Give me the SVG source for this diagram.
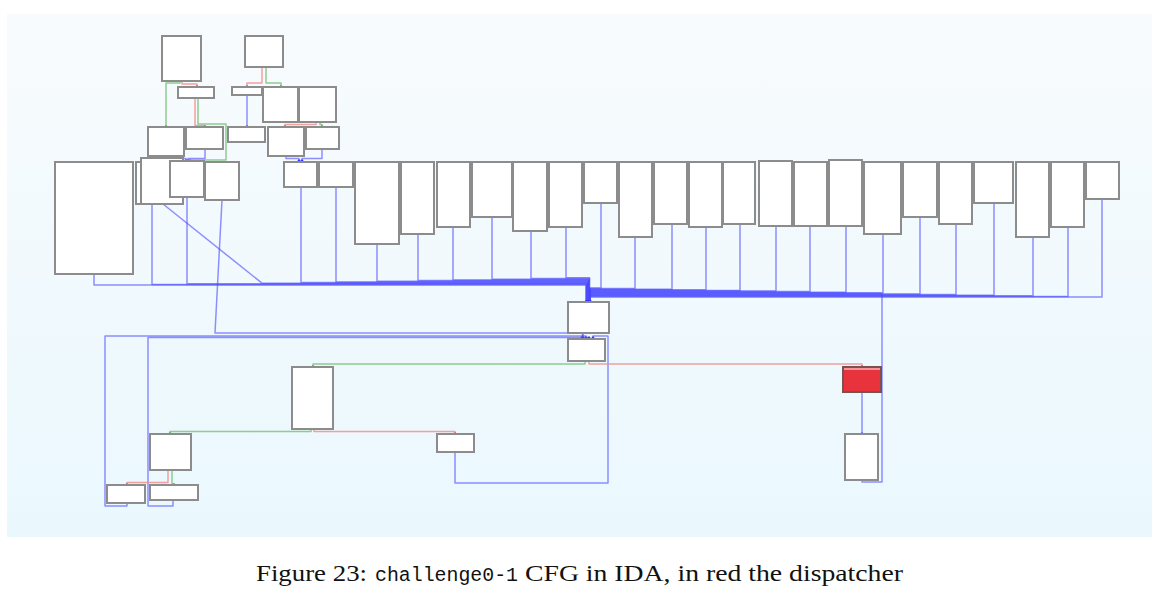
<svg xmlns="http://www.w3.org/2000/svg" width="1157" height="595" viewBox="0 0 1157 595">
<defs>
<linearGradient id="bg" x1="0" y1="0" x2="0" y2="1">
<stop offset="0" stop-color="#f8fbfd"/>
<stop offset="1" stop-color="#eaf8fd"/>
</linearGradient>
<marker id="mb" markerWidth="4" markerHeight="4" refX="2" refY="2" markerUnits="userSpaceOnUse"><circle cx="2" cy="2" r="1.4" fill="#3030ff"/></marker>
<marker id="mg" markerWidth="4" markerHeight="4" refX="2" refY="2" markerUnits="userSpaceOnUse"><circle cx="2" cy="2" r="1.4" fill="#1f8f1f"/></marker>
<marker id="mr" markerWidth="4" markerHeight="4" refX="2" refY="2" markerUnits="userSpaceOnUse"><circle cx="2" cy="2" r="1.4" fill="#e02020"/></marker>
<style>
.n rect{fill:#fff;stroke:#8c8c8c;stroke-width:2}
.e path{fill:none;stroke-width:1.5;stroke-linejoin:round}
.e .b{stroke:#4848ff;stroke-opacity:.6;marker-end:url(#mb)}
.e .g{stroke:#7cc47c;stroke-opacity:.85;marker-end:url(#mg)}
.e .r{stroke:#f09090;stroke-opacity:.85;marker-end:url(#mr)}
.cap{font-family:"Liberation Serif","DejaVu Serif",serif;font-size:23px;fill:#111}
.mono{font-family:"Liberation Mono","DejaVu Sans Mono",monospace;font-size:20px;fill:#111}
</style>
</defs>
<rect x="0" y="0" width="1157" height="595" fill="#fff"/>
<rect x="7" y="14" width="1145" height="523" fill="url(#bg)"/>

<g id="edges" class="e">
<path class="g" d="M180,81 V83 H166 V127"/>
<path class="r" d="M182,81 V84 H197 V87"/>
<path class="r" d="M195,98 V125.5 H205 V127"/>
<path class="g" d="M198,98 V124 H226 V160 H190 V161"/>
<path class="b" d="M167,156 V158.5 H186 V161"/>
<path class="b" d="M205,149 V158.5 H188 V161"/>
<path class="r" d="M262,67 V83 H247 V87"/>
<path class="g" d="M266,67 V83 H281 V87"/>
<path class="b" d="M247,95 V127"/>
<path class="r" d="M316,122 V124.5 H285 V127"/>
<path class="g" d="M320,122 V124.5 H322 V127"/>
<path class="b" d="M286,156 V158.5 H299 V161"/>
<path class="b" d="M322,149 V158.5 H302 V161"/>
<path class="b" d="M94,274 V285 H586 V302"/>
<path class="b" d="M152,204 V284.4 H586.3 V302"/>
<path class="b" d="M187,197 V283.8 H586.6 V302"/>
<path class="b" d="M163,204 L262,283.2 H587 V302"/>
<path class="b" d="M301,187 V282.6 H587.3 V302"/>
<path class="b" d="M336,187 V282 H587.6 V302"/>
<path class="b" d="M377,244 V281.3 H588 V302"/>
<path class="b" d="M418,234 V280.6 H588.3 V302"/>
<path class="b" d="M453,227 V279.9 H588.6 V302"/>
<path class="b" d="M492,217 V279.2 H589 V302"/>
<path class="b" d="M531,231 V278.5 H589.3 V302"/>
<path class="b" d="M566,227 V277.8 H589.6 V302"/>
<path class="b" d="M601,203 V288 H590 V302"/>
<path class="b" d="M635,237 V288.6 H590 V302"/>
<path class="b" d="M672,224 V289.2 H590 V302"/>
<path class="b" d="M706,227 V289.8 H590 V302"/>
<path class="b" d="M740,224 V290.4 H590 V302"/>
<path class="b" d="M776,226 V291 H590 V302"/>
<path class="b" d="M810,226 V291.6 H590 V302"/>
<path class="b" d="M846,226 V292.2 H590 V302"/>
<path class="b" d="M883,234 V292.8 H590 V302"/>
<path class="b" d="M862,480 V482 H882 V293.4 H590 V302"/>
<path class="b" d="M920,217 V294 H590 V302"/>
<path class="b" d="M956,224 V294.6 H590 V302"/>
<path class="b" d="M994,203 V295.2 H590 V302"/>
<path class="b" d="M1033,237 V295.8 H590 V302"/>
<path class="b" d="M1068,227 V296.4 H590 V302"/>
<path class="b" d="M1102,199 V297 H590 V302"/>
<path class="b" d="M588,302 L582,338"/>
<path class="b" d="M222,200 L215,333 H583 V338"/>
<path class="b" d="M127,503 V506 H105 V336 H586 V338"/>
<path class="b" d="M173,500 V506 H148 V337.5 H589 V338"/>
<path class="b" d="M455,452 V483 H608 V336 H593 V338"/>
<path class="g" d="M585,361 V364 H313 V367"/>
<path class="r" d="M589,361 V364 H862 V367"/>
<path class="g" d="M311,429 V431.5 H170 V434"/>
<path class="r" d="M314,429 V431.5 H455 V434"/>
<path class="r" d="M168,470 V482.5 H127 V485"/>
<path class="g" d="M172,470 V484 H174 V485"/>
<path class="b" d="M862,392 V434"/>
</g>

<g id="A" class="n"><rect x="162" y="36" width="39" height="45"/></g>
<g id="B" class="n"><rect x="245" y="36" width="38" height="31"/></g>
<g id="C" class="n"><rect x="178" y="87" width="36" height="11"/></g>
<g id="D" class="n"><rect x="232" y="87" width="30" height="8"/></g>
<g id="E" class="n"><rect x="263" y="87" width="35" height="35"/></g>
<g id="F" class="n"><rect x="299" y="87" width="37" height="35"/></g>
<g id="G" class="n"><rect x="148" y="127" width="36" height="29"/></g>
<g id="H" class="n"><rect x="186" y="127" width="37" height="22"/></g>
<g id="I" class="n"><rect x="228" y="127" width="37" height="15"/></g>
<g id="J" class="n"><rect x="268" y="127" width="36" height="29"/></g>
<g id="K" class="n"><rect x="306" y="127" width="33" height="22"/></g>
<g id="L" class="n"><rect x="55" y="162" width="78" height="112"/></g>
<g id="M1" class="n"><rect x="136" y="162" width="47" height="42"/></g>
<g id="M2" class="n"><rect x="141" y="158" width="42" height="46"/></g>
<g id="N" class="n"><rect x="170" y="161" width="34" height="36"/></g>
<g id="O" class="n"><rect x="205" y="162" width="34" height="38"/></g>
<g id="P" class="n"><rect x="284" y="162" width="33" height="25"/></g>
<g id="Q" class="n"><rect x="319" y="162" width="34" height="25"/></g>
<g id="R" class="n"><rect x="355" y="162" width="44" height="82"/></g>
<g id="S" class="n"><rect x="401" y="162" width="33" height="72"/></g>
<g id="T" class="n"><rect x="437" y="162" width="33" height="65"/></g>
<g id="U" class="n"><rect x="472" y="162" width="40" height="55"/></g>
<g id="V" class="n"><rect x="513" y="162" width="34" height="69"/></g>
<g id="W" class="n"><rect x="549" y="162" width="33" height="65"/></g>
<g id="X" class="n"><rect x="584" y="162" width="33" height="41"/></g>
<g id="Y" class="n"><rect x="619" y="162" width="33" height="75"/></g>
<g id="Z" class="n"><rect x="654" y="162" width="33" height="62"/></g>
<g id="AA" class="n"><rect x="689" y="162" width="33" height="65"/></g>
<g id="AB" class="n"><rect x="723" y="162" width="32" height="62"/></g>
<g id="AC" class="n"><rect x="759" y="161" width="33" height="65"/></g>
<g id="AD" class="n"><rect x="794" y="162" width="33" height="64"/></g>
<g id="AE" class="n"><rect x="829" y="160" width="33" height="66"/></g>
<g id="AF" class="n"><rect x="864" y="162" width="37" height="72"/></g>
<g id="AG" class="n"><rect x="903" y="162" width="34" height="55"/></g>
<g id="AH" class="n"><rect x="939" y="162" width="33" height="62"/></g>
<g id="AI" class="n"><rect x="974" y="162" width="39" height="41"/></g>
<g id="AJ" class="n"><rect x="1016" y="162" width="33" height="75"/></g>
<g id="AK" class="n"><rect x="1051" y="162" width="33" height="65"/></g>
<g id="AL" class="n"><rect x="1086" y="162" width="33" height="37"/></g>
<g id="DA" class="n"><rect x="568" y="302" width="41" height="31"/></g>
<g id="DB" class="n"><rect x="568" y="339" width="37" height="22"/></g>
<g id="MID" class="n"><rect x="292" y="367" width="41" height="62"/></g>
<g id="SM" class="n"><rect x="437" y="434" width="37" height="18"/></g>
<g id="BL1" class="n"><rect x="150" y="434" width="41" height="36"/></g>
<g id="BL2" class="n"><rect x="107" y="485" width="38" height="18"/></g>
<g id="BL3" class="n"><rect x="150" y="485" width="48" height="15"/></g>
<g id="dispatcher" class="n"><rect x="843" y="367" width="38" height="25" style="fill:#e8323c;stroke:#7a5050"/><line x1="844" y1="369" x2="880" y2="369" stroke="#f7b8b8" stroke-width="1.6"/></g>
<g id="RB" class="n"><rect x="845" y="434" width="33" height="46"/></g>

<text class="cap" x="256" y="581" textLength="111" lengthAdjust="spacingAndGlyphs">Figure 23:</text>
<text class="mono" x="375" y="581" textLength="143" lengthAdjust="spacingAndGlyphs">challenge0-1</text>
<text class="cap" x="525" y="581" textLength="378" lengthAdjust="spacingAndGlyphs">CFG in IDA, in red the dispatcher</text>
</svg>
